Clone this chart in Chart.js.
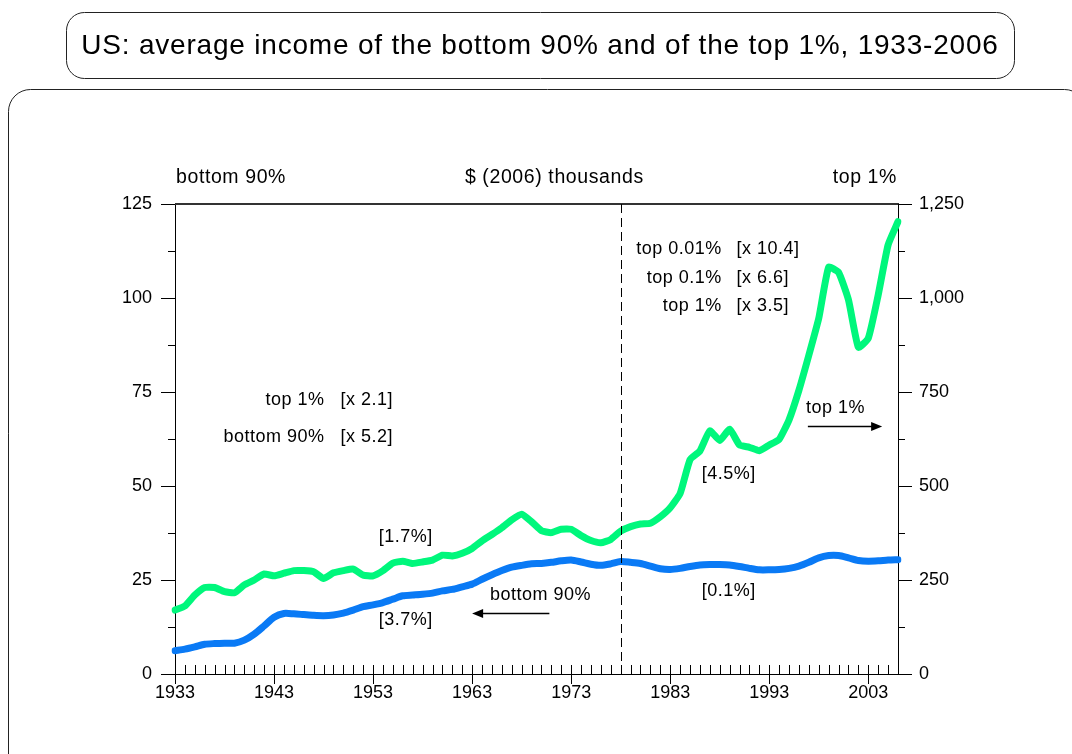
<!DOCTYPE html>
<html>
<head>
<meta charset="utf-8">
<script src="https://cdn.jsdelivr.net/npm/chart.js@4.4.1/dist/chart.umd.min.js"></script>
<style>
  html, body { margin: 0; padding: 0; background: #fff; }
  canvas { display: block; }
</style>
</head>
<body>
<canvas id="incomeChart" width="1072" height="754"></canvas>
<script>
const FONT = '"Liberation Sans", Arial, Helvetica, sans-serif';
const TITLE = 'US: average income of the bottom 90% and of the top 1%, 1933-2006';

// Data: $ (2006) thousands
const years = [
  1933, 1934, 1935, 1936, 1937, 1938, 1939, 1940, 1941, 1942,
  1943, 1944, 1945, 1946, 1947, 1948, 1949, 1950, 1951, 1952,
  1953, 1954, 1955, 1956, 1957, 1958, 1959, 1960, 1961, 1962,
  1963, 1964, 1965, 1966, 1967, 1968, 1969, 1970, 1971, 1972,
  1973, 1974, 1975, 1976, 1977, 1978, 1979, 1980, 1981, 1982,
  1983, 1984, 1985, 1986, 1987, 1988, 1989, 1990, 1991, 1992,
  1993, 1994, 1995, 1996, 1997, 1998, 1999, 2000, 2001, 2002,
  2003, 2004, 2005, 2006
];

// bottom 90% (left axis)
const bottom90 = [
  6.2, 6.6, 7.2, 7.9, 8.1, 8.2, 8.2, 9.0, 10.6, 12.8,
  15.1, 16.1, 16.0, 15.8, 15.6, 15.5, 15.7, 16.2, 17.0, 17.9,
  18.4, 19.0, 19.9, 20.8, 21.0, 21.2, 21.5, 22.1, 22.5, 23.2,
  23.9, 25.2, 26.4, 27.5, 28.4, 28.9, 29.3, 29.4, 29.7, 30.1,
  30.3, 29.8, 29.2, 28.9, 29.3, 29.9, 29.7, 29.4, 28.7, 28.0,
  27.8, 28.1, 28.6, 29.0, 29.1, 29.1, 29.0, 28.6, 28.1, 27.7,
  27.7, 27.8, 28.1, 28.7, 29.7, 30.9, 31.5, 31.5, 30.9, 30.2,
  30.0, 30.1, 30.3, 30.4
];

// top 1% (right axis)
const top1 = [
  170, 181, 210, 230, 230, 219, 216, 237, 250, 266,
  261, 268, 275, 275, 272, 254, 269, 275, 279, 263,
  261, 275, 295, 300, 294, 298, 303, 316, 314, 321,
  334, 354, 371, 389, 410, 425, 405, 381, 376, 385,
  385, 368, 355, 349, 358, 380, 392, 399, 401, 418,
  442, 480, 570, 593, 647, 621, 651, 609, 603, 594,
  609, 624, 676, 755, 848, 946, 1082, 1068, 995, 869,
  893, 1008, 1141, 1203
];

const xTickLabels = ['1933', '1943', '1953', '1963', '1973', '1983', '1993', '2003'];
const breakYear = 1978;

// text notes: [text, year, left-axis value, align]
const notes = [
  ['top 0.01%', 1988.2, 113.0, 'right'], ['[x 10.4]', 1989.7, 113.0, 'left'],
  ['top 0.1%', 1988.2, 105.3, 'right'], ['[x 6.6]', 1989.7, 105.3, 'left'],
  ['top 1%', 1988.2, 97.9, 'right'], ['[x 3.5]', 1989.7, 97.9, 'left'],
  ['top 1%', 1948.1, 72.9, 'right'], ['[x 2.1]', 1949.7, 72.9, 'left'],
  ['bottom 90%', 1948.1, 63.0, 'right'], ['[x 5.2]', 1949.7, 63.0, 'left'],
  ['[1.7%]', 1956.3, 36.4, 'center'],
  ['[3.7%]', 1956.3, 14.4, 'center'],
  ['bottom 90%', 1969.9, 21.0, 'center'],
  ['top 1%', 1999.7, 70.7, 'center'],
  ['[4.5%]', 1988.9, 53.2, 'center'],
  ['[0.1%]', 1988.9, 22.1, 'center']
];
// arrows: [fromYear, toYear, value]
const arrows = [
  [1970.8, 1963.0, 16.2],
  [1996.9, 2004.4, 66.0]
];

function roundBox(c, x, y, w, h, r) {
  c.beginPath();
  c.moveTo(x + r, y);
  c.arcTo(x + w, y, x + w, y + h, r);
  c.arcTo(x + w, y + h, x, y + h, r);
  c.arcTo(x, y + h, x, y, r);
  c.arcTo(x, y, x + w, y, r);
  c.closePath();
  c.stroke();
}

// year -> pixel, works between category indexes
function yearPx(xs, yr) {
  return xs.getPixelForValue(yr - years[0]);
}

const decorations = {
  id: 'decorations',
  beforeDraw(chart) {
    const c = chart.ctx;
    c.save();
    c.fillStyle = '#fff';
    c.fillRect(0, 0, chart.width, chart.height);
    c.strokeStyle = '#222';
    c.lineWidth = 1;
    roundBox(c, 66.5, 12.5, 948, 66, 18);
    roundBox(c, 8.5, 89.5, 1078, 720, 22);
    c.fillStyle = '#000';
    c.font = '28px ' + FONT;
    c.letterSpacing = '0.8px';
    c.textAlign = 'center';
    c.textBaseline = 'middle';
    c.fillText(TITLE, 540, 46);
    c.restore();
  },
  afterDatasetsDraw(chart) {
    const c = chart.ctx;
    const a = chart.chartArea;
    const xs = chart.scales.x, ys = chart.scales.y, ys2 = chart.scales.y2;
    c.save();

    // frame top
    c.strokeStyle = '#333';
    c.lineWidth = 2;
    c.beginPath();
    c.moveTo(a.left, a.top);
    c.lineTo(a.right + 1, a.top);
    c.stroke();

    // dashed break line
    const bx = Math.round(yearPx(xs, breakYear)) + 0.5;
    c.strokeStyle = '#000';
    c.lineWidth = 1;
    c.setLineDash([9, 5]);
    c.beginPath();
    c.moveTo(bx, a.top);
    c.lineTo(bx, a.bottom);
    c.stroke();
    c.setLineDash([]);

    // tick marks
    c.beginPath();
    for (let v = 0; v <= 125; v += 12.5) {
      const py = Math.round(ys.getPixelForValue(v)) + 0.5;
      const len = v % 25 === 0 ? 14 : 7;
      c.moveTo(a.left - len, py);
      c.lineTo(a.left, py);
    }
    for (let v = 0; v <= 1250; v += 125) {
      const py = Math.round(ys2.getPixelForValue(v)) + 0.5;
      const len = v % 250 === 0 ? 14 : 7;
      c.moveTo(a.right, py);
      c.lineTo(a.right + len, py);
    }
    years.forEach((yr, i) => {
      const px = Math.round(xs.getPixelForValue(i)) + 0.5;
      c.moveTo(px, a.bottom - 9);
      c.lineTo(px, a.bottom + (xTickLabels.includes(String(yr)) ? 10 : 0));
    });
    c.stroke();

    // header labels
    c.fillStyle = '#000';
    c.font = '19.5px ' + FONT;
    c.letterSpacing = '0.6px';
    c.textBaseline = 'middle';
    c.textAlign = 'left';
    c.fillText('bottom 90%', a.left + 1, a.top - 26);
    c.textAlign = 'center';
    c.fillText('$ (2006) thousands', yearPx(xs, 1971.3), a.top - 26);
    c.textAlign = 'right';
    c.fillText('top 1%', a.right - 1, a.top - 26);

    // notes
    c.font = '18px ' + FONT;
    c.letterSpacing = '0.5px';
    notes.forEach(([t, yr, v, al]) => {
      c.textAlign = al;
      c.fillText(t, yearPx(xs, yr), ys.getPixelForValue(v));
    });
    c.letterSpacing = '0px';

    // arrows
    c.lineWidth = 1.5;
    arrows.forEach(([from, to, v]) => {
      const x1 = yearPx(xs, from), x2 = yearPx(xs, to);
      const py = Math.round(ys.getPixelForValue(v)) + 0.5;
      const dir = Math.sign(x2 - x1);
      c.beginPath();
      c.moveTo(x1, py);
      c.lineTo(x2 - dir * 8, py);
      c.stroke();
      c.beginPath();
      c.moveTo(x2, py);
      c.lineTo(x2 - dir * 11, py - 4.5);
      c.lineTo(x2 - dir * 11, py + 4.5);
      c.closePath();
      c.fill();
    });
    c.restore();
  }
};

const axisFont = { family: FONT, size: 18 };

new Chart(document.getElementById('incomeChart'), {
  type: 'line',
  data: {
    labels: years,
    datasets: [
      {
        label: 'top 1%',
        data: top1,
        yAxisID: 'y2',
        borderColor: '#00f77c',
        borderWidth: 7,
        pointRadius: 0,
        tension: 0.15,
        borderCapStyle: 'round',
        borderJoinStyle: 'round'
      },
      {
        label: 'bottom 90%',
        data: bottom90,
        yAxisID: 'y',
        borderColor: '#0a7af5',
        borderWidth: 7,
        pointRadius: 0,
        tension: 0.25,
        borderCapStyle: 'round',
        borderJoinStyle: 'round'
      }
    ]
  },
  options: {
    responsive: false,
    animation: false,
    devicePixelRatio: 1,
    layout: { padding: { top: 204, left: 0, right: 0, bottom: 0 } },
    plugins: {
      legend: { display: false },
      tooltip: { enabled: false }
    },
    scales: {
      x: {
        type: 'category',
        offset: false,
        grid: { display: false, drawTicks: false },
        border: { display: true, color: '#000', width: 1 },
        ticks: {
          autoSkip: false,
          maxRotation: 0,
          padding: 8,
          color: '#000',
          font: axisFont,
          callback: function (val) {
            const lab = String(this.getLabelForValue(val));
            return xTickLabels.includes(lab) ? lab : '';
          }
        },
        afterFit: s => { s.height = 80; }
      },
      y: {
        position: 'left',
        min: 0,
        max: 125,
        grid: { display: false, drawTicks: false },
        border: { display: true, color: '#000', width: 1 },
        ticks: { stepSize: 25, padding: 23, color: '#000', font: axisFont },
        afterFit: s => { s.width = 175; }
      },
      y2: {
        position: 'right',
        min: 0,
        max: 1250,
        grid: { display: false, drawTicks: false },
        border: { display: true, color: '#000', width: 1 },
        ticks: {
          stepSize: 250,
          padding: 21,
          color: '#000',
          font: axisFont,
          callback: v => v.toLocaleString('en-US')
        },
        afterFit: s => { s.width = 174; }
      }
    }
  },
  plugins: [decorations]
});
</script>
</body>
</html>
